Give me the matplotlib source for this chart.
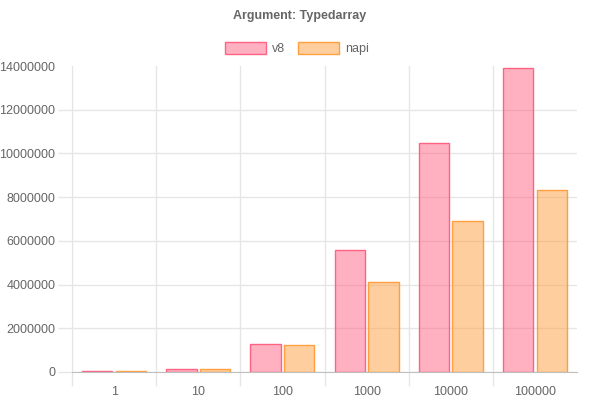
import matplotlib.pyplot as plt
from matplotlib.patches import Patch
from matplotlib.ticker import FuncFormatter, FixedLocator
import numpy as np

plt.rcParams['font.family'] = ['Liberation Sans', 'DejaVu Sans']

categories = ["1", "10", "100", "1000", "10000", "100000"]
v8 = [40000, 140000, 1280000, 5580000, 10480000, 13900000]
napi = [30000, 130000, 1230000, 4120000, 6910000, 8330000]

txt = "#666666"
grid = "#e6e6e6"

fig = plt.figure(figsize=(6, 4), dpi=100)
ax = fig.add_axes([0.12, 0.07, 0.8417, 0.765])

x = np.arange(len(categories))
w = 0.36
ax.bar(x - 0.2, v8, w, color=(1, 99/255, 132/255, 0.5),
       edgecolor=(1, 99/255, 132/255), linewidth=1)
ax.bar(x + 0.2, napi, w, color=(1, 159/255, 64/255, 0.5),
       edgecolor=(1, 159/255, 64/255), linewidth=1)

ax.set_xlim(-0.5, len(categories) - 0.5)
ax.set_ylim(0, 14000000)
ax.set_xticks(x)
ax.set_xticklabels(categories)
# category boundaries (no line on the right edge)
ax.xaxis.set_minor_locator(FixedLocator(np.arange(-0.5, len(categories) - 1, 1)))
# labels on major ticks, grid lines + tick marks on minor (none at the top)
ax.set_yticks(np.arange(0, 14000001, 2000000))
ax.yaxis.set_minor_locator(FixedLocator(np.arange(0, 12000001, 2000000)))
ax.yaxis.remove_overlapping_locs = False
ax.yaxis.set_major_formatter(FuncFormatter(lambda v, p: "%d" % v))

ax.tick_params(axis='x', which='major', length=0, pad=10, labelsize=9, labelcolor=txt)
ax.tick_params(axis='x', which='minor', length=10, color=grid, width=1)
ax.tick_params(axis='y', which='major', length=0, pad=12, labelsize=9, labelcolor=txt)
ax.tick_params(axis='y', which='minor', length=10, color=grid, width=1)

ax.grid(True, axis='x', which='minor', color=grid, linewidth=1, alpha=1)
ax.grid(True, axis='y', which='minor', color=grid, linewidth=1, alpha=1)
ax.set_axisbelow(True)
for s in ['top', 'right']:
    ax.spines[s].set_visible(False)
ax.spines['left'].set_color(grid)
ax.spines['bottom'].set_color("#bfbfbf")

fig.text(0.5, 0.96, "Argument: Typedarray", ha='center', va='center',
         fontsize=9, fontweight='bold', color=txt)

handles = [Patch(facecolor=(1, 99/255, 132/255, 0.5), edgecolor=(1, 99/255, 132/255)),
           Patch(facecolor=(1, 159/255, 64/255, 0.5), edgecolor=(1, 159/255, 64/255))]
fig.legend(handles, ["v8", "napi"], loc='center', bbox_to_anchor=(0.495, 0.878),
           ncol=2, frameon=False, fontsize=9, labelcolor=txt,
           handlelength=3.3, handleheight=1.0, handletextpad=0.5, columnspacing=1.0)

fig.savefig("out.png", dpi=100)
